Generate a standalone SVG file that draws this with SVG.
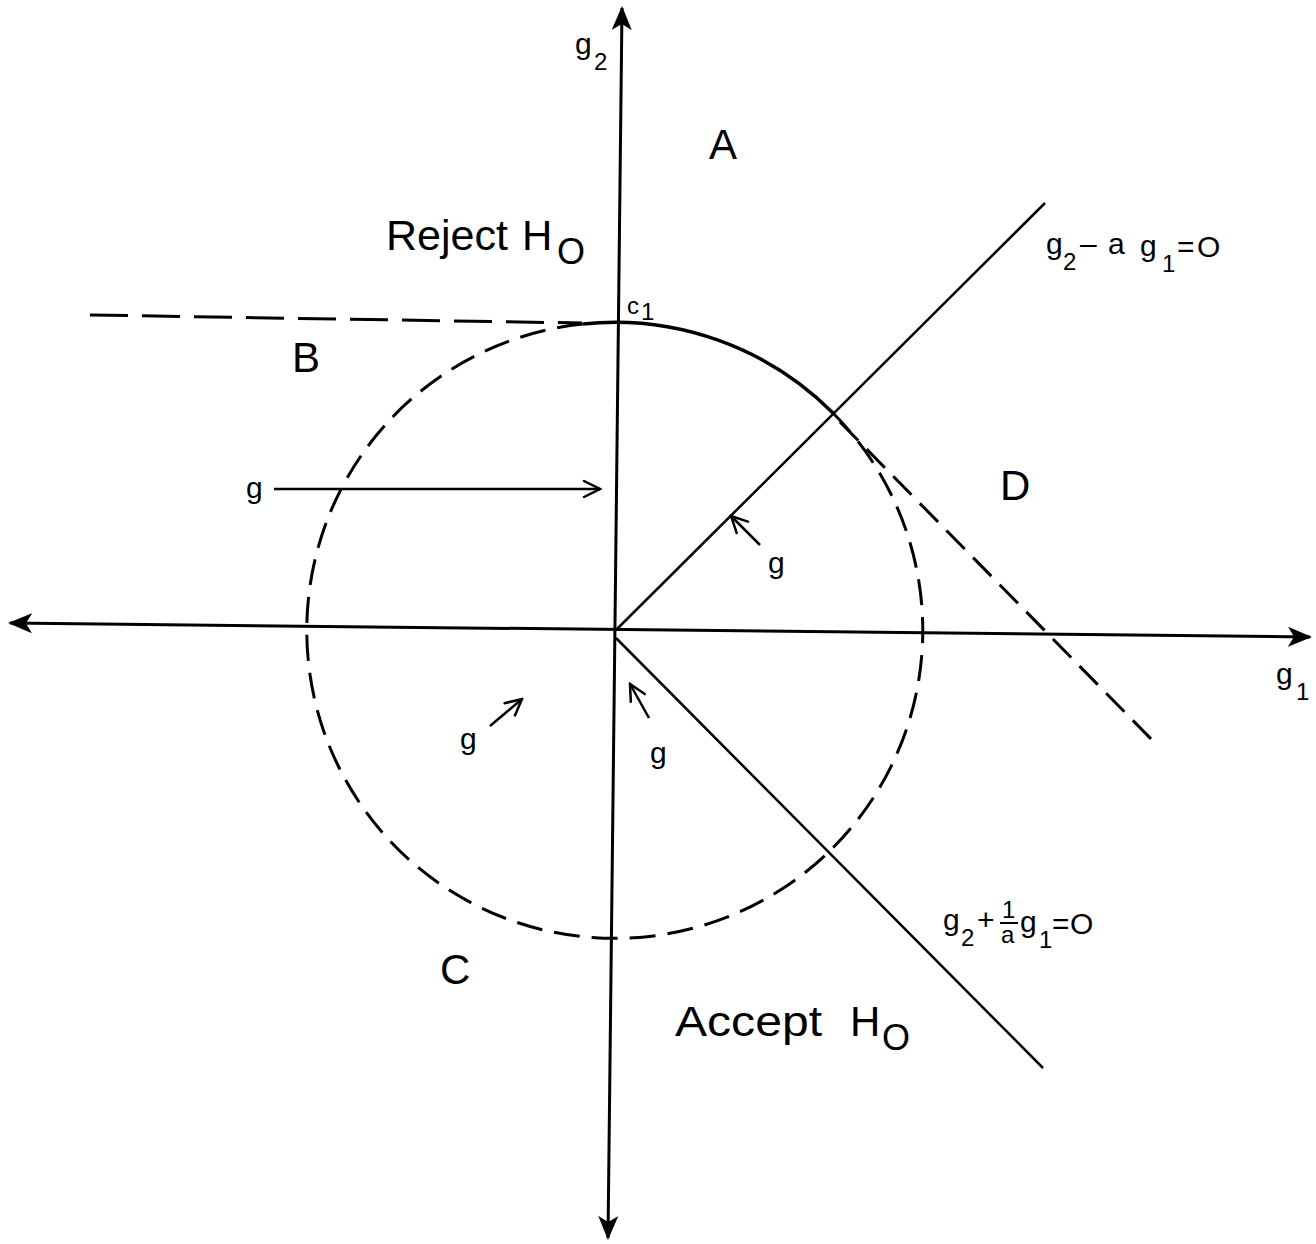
<svg xmlns="http://www.w3.org/2000/svg" width="1316" height="1244" viewBox="0 0 1316 1244">
<defs>
<marker id="axhead" viewBox="0 0 24 20" refX="22" refY="10" markerWidth="24" markerHeight="20" markerUnits="userSpaceOnUse" orient="auto-start-reverse">
<path d="M0,0 L24,10 L0,20 L6,10 Z" fill="#000"/>
</marker>
<marker id="openhead" viewBox="0 0 20 20" refX="18" refY="10" markerWidth="20" markerHeight="20" markerUnits="userSpaceOnUse" orient="auto">
<path d="M2,2 L18,10 L2,18" fill="none" stroke="#000" stroke-width="2.5" stroke-linecap="round"/>
</marker>
</defs>
<style>
.ax{stroke:#000;stroke-width:3;fill:none}
.ln{stroke:#000;stroke-width:2.5;fill:none}
.sol{stroke:#000;stroke-width:3.5;fill:none}
.dsh{stroke:#000;stroke-width:3;fill:none;stroke-dasharray:26 12}
.dshl{stroke:#000;stroke-width:3;fill:none;stroke-dasharray:38 14}
.big{font-family:"Liberation Sans",Arial,sans-serif;font-size:42px;fill:#000}
.med{font-family:"Liberation Sans",Arial,sans-serif;font-size:30px;fill:#000}
.sm{font-family:"Liberation Sans",Arial,sans-serif;font-size:24px;fill:#000}
.sub{font-family:"Liberation Sans",Arial,sans-serif;font-size:36px;fill:#000}
</style>
<g id="connectors">
<line class="ax" x1="608" y1="1238" x2="622" y2="8" marker-start="url(#axhead)" marker-end="url(#axhead)"/>
<line class="ax" x1="10" y1="623" x2="1310" y2="637" marker-start="url(#axhead)" marker-end="url(#axhead)"/>
<path class="sol" d="M583 324 A308 308 0 0 1 833 413"/>
<path class="dsh" d="M833 413 A308 308 0 1 1 583 324"/>
<line class="dshl" x1="90" y1="315" x2="582" y2="323"/>
<line class="dsh" x1="840" y1="422" x2="1157" y2="745"/>
<line class="ln" x1="616" y1="630" x2="1045" y2="203"/>
<line class="ln" x1="616" y1="638" x2="1043" y2="1068"/>
<line class="ln" x1="274" y1="489" x2="600" y2="489" marker-end="url(#openhead)"/>
<line class="ln" x1="760" y1="545" x2="731" y2="516" marker-end="url(#openhead)"/>
<line class="ln" x1="490" y1="726" x2="522" y2="699" marker-end="url(#openhead)"/>
<line class="ln" x1="649" y1="718" x2="630" y2="684" marker-end="url(#openhead)"/>
</g>
<g id="axis-labels">
<text class="med" x="575" y="54">g</text><text class="sm" x="594" y="70">2</text>
<text class="med" x="1276" y="684">g</text><text class="sm" x="1296" y="700">1</text>
<text class="sm" x="627" y="314">c</text><text class="sm" x="641" y="320">1</text>
</g>
<g id="region-A"><text class="big" x="709" y="159">A</text></g>
<g id="region-B"><text class="big" x="292" y="372">B</text></g>
<g id="region-C"><text class="big" x="440" y="984">C</text></g>
<g id="region-D"><text class="big" x="1000" y="500">D</text></g>
<g id="reject"><text class="big" x="386" y="250" textLength="122" lengthAdjust="spacingAndGlyphs">Reject</text><text class="big" x="522" y="250">H</text><text class="sub" x="557" y="264">O</text></g>
<g id="accept"><text class="big" x="675" y="1036" textLength="147" lengthAdjust="spacingAndGlyphs">Accept</text><text class="big" x="850" y="1036">H</text><text class="sub" x="882" y="1050">O</text></g>
<g id="eq1">
<text class="med" x="1046" y="254">g</text><text class="sm" x="1063" y="270">2</text>
<text class="med" x="1080" y="254">–</text>
<text class="med" x="1108" y="254">a</text>
<text class="med" x="1140" y="256">g</text><text class="sm" x="1162" y="272">1</text>
<text class="med" x="1177" y="257">=</text>
<text class="med" x="1197" y="257">O</text>
</g>
<g id="eq2">
<text class="med" x="943" y="930">g</text><text class="sm" x="961" y="946">2</text>
<text class="med" x="977" y="930">+</text>
<text class="sm" x="1002" y="918">1</text>
<line x1="1000" y1="923" x2="1018" y2="923" stroke="#000" stroke-width="2"/>
<text class="sm" x="1001" y="943">a</text>
<text class="med" x="1020" y="932">g</text><text class="sm" x="1039" y="948">1</text>
<text class="med" x="1052" y="934">=</text>
<text class="med" x="1070" y="934">O</text>
</g>
<g id="g-labels">
<text class="med" x="246" y="498">g</text>
<text class="med" x="768" y="573">g</text>
<text class="med" x="460" y="749">g</text>
<text class="med" x="650" y="763">g</text>
</g>
</svg>
